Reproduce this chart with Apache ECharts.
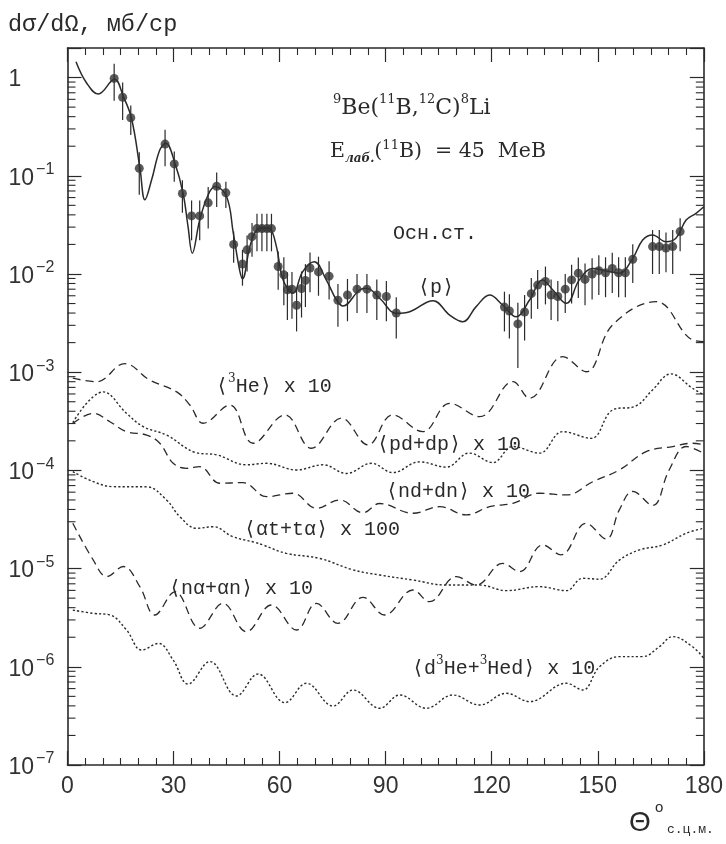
<!DOCTYPE html>
<html><head><meta charset="utf-8">
<script src="https://cdn.jsdelivr.net/npm/echarts@6/dist/echarts.min.js"></script>
<style>html,body{margin:0;padding:0;background:#fff}#c{width:726px;height:844px}</style>
</head><body><div id="c"></div>
<script>
// ---- data (theta in degrees c.m., dσ/dΩ in mb/sr) ----
const thetaP = [2.4,5.4,8.7,13.3,15.8,18.1,20.5,21.9,23.8,26.1,27.8,30.4,32.7,34.1,35.3,37.4,39.8,41.7,45,46.9,48.7,49.5,51.6,53.5,55.5,57.2,59.1,61,63.8,66.5,69.8,73.2,76.1,77.9,82.6,84.5,88.3,93,96.8,103.4,108.1,111.8,115.6,119.4,123.1,126.9,130.7,134.4,137.3,141.1,144.8,148.6,152,156.1,159.9,162.7,165.5,169.3,172.1,175,177.8,180];
const valP = [1.45,0.88,0.68,0.96,0.64,0.385,0.119,0.057,0.091,0.183,0.214,0.134,0.066,0.0303,0.0163,0.0355,0.064,0.0776,0.0614,0.026,0.0109,0.00895,0.019,0.028,0.0295,0.029,0.019,0.0087,0.00635,0.0105,0.0133,0.0087,0.00543,0.00472,0.00687,0.00715,0.00566,0.00398,0.00413,0.00535,0.00382,0.00327,0.00465,0.0061,0.00483,0.00367,0.00543,0.0087,0.00687,0.00502,0.0087,0.0114,0.0108,0.0102,0.0144,0.0222,0.025,0.0213,0.0231,0.0355,0.0415,0.0484];

const ptTheta = [13.2,15.6,17.9,20.3,27.6,30.2,32.5,35.1,37.4,39.8,42.2,44.8,47.0,49.5,50.8,52.2,53.6,55.0,56.4,57.7,59.6,61.2,62.2,63.5,64.8,66.2,67.3,68.6,71.0,74.0,76.5,79.2,81.9,84.7,87.5,90.2,93.0,123.6,125.0,127.4,129.3,131.2,133.0,135.2,136.8,138.7,140.8,142.6,144.5,146.4,148.4,150.3,152.2,154.1,155.9,157.8,159.9,165.5,167.4,169.3,171.2,173.3];
const ptVal = [0.98,0.63,0.39,0.119,0.21,0.132,0.066,0.039,0.039,0.053,0.078,0.067,0.020,0.0126,0.0176,0.024,0.029,0.029,0.029,0.029,0.0119,0.0098,0.0069,0.0070,0.0048,0.0071,0.0086,0.0115,0.0105,0.0095,0.0054,0.0061,0.0070,0.0070,0.0061,0.0059,0.0040,0.0046,0.0042,0.0031,0.0041,0.0063,0.0077,0.0084,0.0061,0.0059,0.0070,0.0087,0.0102,0.0088,0.0100,0.0108,0.0103,0.0114,0.0103,0.0103,0.0141,0.019,0.019,0.0184,0.019,0.027];
const ptErr = [0.40,0.26,0.13,0.055,0.085,0.045,0.024,0.017,0.017,0.024,0.030,0.020,0.007,0.005,0.007,0.009,0.012,0.012,0.012,0.012,0.005,0.005,0.0035,0.0035,0.0022,0.0035,0.004,0.005,0.0045,0.004,0.0025,0.0028,0.003,0.003,0.0027,0.0026,0.0018,0.002,0.002,0.002,0.002,0.0028,0.0033,0.0035,0.0027,0.0026,0.003,0.0037,0.0045,0.004,0.0045,0.0047,0.0045,0.005,0.0045,0.0045,0.006,0.009,0.009,0.008,0.009,0.010];

const thetaHe3 = [1.5,8.2,16.2,23.3,30.9,34.6,38.4,45.9,52.5,61.5,69,77.5,85,92,100.5,108.1,116.6,126,130.7,140.1,146.7,154.2,166.5,176.8,180];
const valHe3 = [8.7e-4,8.0e-4,1.22e-3,8.3e-4,6.3e-4,4.63e-4,3.02e-4,4.63e-4,1.89e-4,3.67e-4,1.68e-4,3.4e-4,1.82e-4,3.67e-4,2.48e-4,4.82e-4,3.52e-4,8.0e-4,5.42e-4,1.44e-3,1.01e-3,3.03e-3,5.22e-3,2.13e-3,2.05e-3];

const thetaPd = [1.5,10.1,16.7,21.4,28,36.5,42.2,50.6,56.3,64.8,72.3,78.9,86,92,99.6,107.1,113.7,120.3,126,133.5,140.1,148.1,154.2,160.8,165.5,170.7,176.8,180];
const valPd = [3.07e-4,6.3e-4,3.81e-4,2.79e-4,2.29e-4,1.51e-4,1.44e-4,1.14e-4,1.18e-4,1.01e-4,1.14e-4,9.3e-5,1.18e-4,9.5e-5,1.22e-4,1.08e-4,1.5e-4,1.2e-4,1.75e-4,1.5e-4,2.48e-4,2.12e-4,4.12e-4,4.53e-4,6.59e-4,9.6e-4,6.86e-4,5.86e-4];

const thetaNd = [1.5,7.3,12,16.7,22.4,26.1,29.9,33.7,37.4,43.1,49.7,56.3,63.8,70.4,77,83.6,88.3,97.7,105.3,112.8,119.4,126,133.5,141.1,148.6,156.1,163.7,171.2,176.8,180];
const valNd = [3.0e-4,3.81e-4,3.13e-4,2.48e-4,2.29e-4,1.89e-4,1.18e-4,1.05e-4,1.09e-4,7.4e-5,7.5e-5,5.4e-5,5.85e-5,4.11e-5,5.0e-5,3.7e-5,4.6e-5,3.66e-5,4.27e-5,3.52e-5,4.27e-5,4.62e-5,5.85e-5,5.62e-5,7.67e-5,1.01e-4,1.55e-4,1.75e-4,1.89e-4,1.82e-4];

const thetaAt = [1.5,7.3,12.9,22.4,28,31.8,36.5,41.2,46.8,53,55.3,61.9,71.3,80.8,88.3,97.7,107.1,116.6,124.1,133.5,141.1,145.7,150.5,156.1,161.8,168.4,175,180];
const valAt = [9.7e-5,7.67e-5,6.83e-5,6.8e-5,5.0e-5,3.37e-5,2.57e-5,2.67e-5,2.11e-5,1.85e-5,1.74e-5,1.43e-5,1.27e-5,9.7e-6,8.6e-6,7.65e-6,6.8e-6,6.8e-6,5.96e-6,6.55e-6,5.96e-6,7.96e-6,7.8e-6,1.22e-5,1.55e-5,1.74e-5,2.29e-5,2.57e-5];

const thetaNa = [1.5,7.3,11.1,15.8,20.5,24.7,30.4,37.4,44,50.6,57.7,64.8,70.4,76.5,83.6,89.7,97.7,102.4,110,115.6,123.1,127.9,134.4,139.6,146.7,152.4,156.1,159.9,165.5,170.2,175,180];
const valNa = [2.9e-5,1.22e-5,8.3e-6,1.05e-5,6.5e-6,3.37e-6,5.8e-6,2.47e-6,4.43e-6,2.28e-6,4.26e-6,2.37e-6,4.43e-6,2.77e-6,5.1e-6,3.37e-6,6.05e-6,4.6e-6,8.3e-6,6.8e-6,1.13e-5,9.3e-6,1.74e-5,1.38e-5,2.89e-5,2.0e-5,3.96e-5,6.1e-5,4.4e-5,1.01e-4,1.75e-4,1.49e-4];

const thetaDHe = [1.5,7.3,12,16.7,21,25.7,29.9,34.1,40.3,47.8,53.9,61.5,67.6,75.1,80.8,88.3,94,101.5,109,116.6,124.1,130.7,141.1,145.7,150.5,156.1,162.7,167.4,171.2,176.8,180];
const valDHe = [3.78e-6,3.5e-6,3.37e-6,2.37e-6,1.48e-6,1.73e-6,1.17e-6,6.68e-7,1.13e-6,5.05e-7,8.45e-7,4.31e-7,6.8e-7,3.99e-7,5.8e-7,3.78e-7,5.16e-7,3.78e-7,5.16e-7,4.08e-7,5.37e-7,4.42e-7,6.8e-7,5.8e-7,1.0e-6,1.27e-6,1.27e-6,1.6e-6,2.03e-6,1.6e-6,1.22e-6];

// axis ticks
const xTickStep = 30;
const yDecades = [-7,-6,-5,-4,-3,-2,-1,0];
const yMantissas = [2,3,4,5,6,7,8,9];

// ---- build ----
const INK = '#2a2a2a';
const zip = (a, b) => a.map((t, i) => [t, b[i]]);
const minorVals = [];
yDecades.forEach(d => yMantissas.forEach(m => { const v = m * Math.pow(10, d); if (v < 1.99) minorVals.push(v); }));

const axisLineStyle = {color: INK, width: 1.6};
function xAx(pos, showLabel) {
  return {type: 'value', min: 0, max: 180, interval: xTickStep, position: pos,
    axisLine: {show: true, onZero: false, lineStyle: axisLineStyle},
    axisTick: {show: true, inside: true, length: 14, lineStyle: {color: INK, width: 1.2}},
    minorTick: {show: true, splitNumber: 6, length: 7, lineStyle: {color: INK, width: 1.1}},
    splitLine: {show: false},
    axisLabel: {show: showLabel, margin: 10, fontFamily: 'Liberation Sans', fontSize: 23, color: '#333'}};
}
function yFmt(v) {
  const l = Math.log10(v), e = Math.round(l);
  if (Math.abs(l - e) > 1e-6) return '';
  if (e === 0) return '{n|1}';
  return '{n|10}{s|\u2212' + (-e) + '}';
}
function yAx(pos, showLabel) {
  return {type: 'log', logBase: 10, min: 1e-7, max: 2, interval: 1, position: pos,
    axisLine: {show: true, onZero: false, lineStyle: axisLineStyle},
    axisTick: {show: true, inside: true, length: 14, lineStyle: {color: INK, width: 1.2}},
    minorTick: {show: false}, splitLine: {show: false},
    axisLabel: {show: showLabel, align: 'left', margin: 59, formatter: yFmt,
      rich: {n: {fontFamily: 'Liberation Sans', fontSize: 23, color: '#333', lineHeight: 28, verticalAlign: 'bottom'},
             s: {fontFamily: 'Liberation Sans', fontSize: 16, color: '#333', lineHeight: 16, verticalAlign: 'top', padding: [0, 0, 0, 2]}}}};
}
function curve(th, v, dash, w) {
  return {type: 'line', data: zip(th, v), showSymbol: false, smooth: 0.4, silent: true,
    lineStyle: {color: INK, width: w, type: dash}, z: 3};
}
const DASH = [8, 5], DOT = [2.2, 2.2];
const MONO = "'Liberation Mono','DejaVu Sans Mono','DejaVu Sans',monospace";
const SERIF = "'DejaVu Serif','Liberation Serif',serif";
function txt(x, y, text, rich, font, size) {
  return {type: 'text', x: x, y: y, silent: true, z: 10,
    style: {text: text, rich: rich || {}, fill: INK, align: 'left', verticalAlign: 'middle',
            fontFamily: font || MONO, fontSize: size || 20}};
}
const monoRich = {
  m: {fontFamily: MONO, fontSize: 20, color: INK, lineHeight: 24, verticalAlign: 'bottom'},
  s: {fontFamily: SERIF, fontSize: 12, color: INK, lineHeight: 12, verticalAlign: 'top'}
};

const option = {
  animation: false, backgroundColor: '#fff',
  grid: {left: 67.5, right: 21, top: 48, bottom: 79},
  xAxis: [xAx('bottom', true), xAx('top', false)],
  yAxis: [yAx('left', true), yAx('right', false)],
  series: [
    {type: 'custom', silent: true, clip: false, z: 6, data: [[90, 1e-3]], encode: {x: 0, y: 1},
     renderItem: (p, api) => {
       const cs = p.coordSys;
       const kids = [];
       minorVals.forEach(v => {
         const y = api.coord([90, v])[1];
         kids.push({type: 'line', shape: {x1: cs.x, y1: y, x2: cs.x + 8, y2: y}, style: {stroke: INK, lineWidth: 1.1}});
         kids.push({type: 'line', shape: {x1: cs.x + cs.width - 8, y1: y, x2: cs.x + cs.width, y2: y}, style: {stroke: INK, lineWidth: 1.1}});
       });
       return {type: 'group', children: kids};
     }},
    curve(thetaP, valP, 'solid', 1.5),
    {type: 'custom', silent: true, z: 4,
     data: ptTheta.map((t, i) => [t, ptVal[i] - ptErr[i], ptVal[i] + ptErr[i]]),
     encode: {x: 0, y: [1, 2]},
     renderItem: (p, api) => {
       const a = api.coord([api.value(0), api.value(1)]), b = api.coord([api.value(0), api.value(2)]);
       return {type: 'line', shape: {x1: a[0], y1: a[1], x2: b[0], y2: b[1]}, style: {stroke: INK, lineWidth: 1.2}};
     }},
    {type: 'scatter', data: zip(ptTheta, ptVal), symbol: 'circle', symbolSize: 9, silent: true, z: 5,
     itemStyle: {color: '#333'}},
    curve(thetaHe3, valHe3, DASH, 1.3),
    curve(thetaPd, valPd, DOT, 1.4),
    curve(thetaNd, valNd, DASH, 1.3),
    curve(thetaAt, valAt, DOT, 1.4),
    curve(thetaNa, valNa, DASH, 1.3),
    curve(thetaDHe, valDHe, DOT, 1.4)
  ],
  graphic: [
    txt(8, 25, 'dσ/dΩ, мб/ср', null, MONO, 23.5),
    txt(333, 106, '{s|9}{m|Be(}{s|11}{m|B,}{s|12}{m|C)}{s|8}{m|Li}', {
      m: {fontFamily: SERIF, fontSize: 22, color: INK, lineHeight: 26, verticalAlign: 'bottom'},
      s: {fontFamily: SERIF, fontSize: 13, color: INK, lineHeight: 13, verticalAlign: 'top'}}),
    txt(330, 152, '{m|E}{b|лаб.}{m|(}{s|11}{m|B)  = 45  MeB}', {
      m: {fontFamily: SERIF, fontSize: 20.5, color: INK, lineHeight: 26, verticalAlign: 'middle'},
      b: {fontFamily: SERIF, fontSize: 12, fontStyle: 'italic', fontWeight: 'bold', color: INK, lineHeight: 24, verticalAlign: 'bottom'},
      s: {fontFamily: SERIF, fontSize: 13, color: INK, lineHeight: 26, verticalAlign: 'top'}}),
    txt(393, 232, '{m|Осн.ст.}', monoRich),
    txt(418, 286, '{m|⟨p⟩}', monoRich),
    txt(216, 385, '{m|⟨}{s|3}{m|He⟩ x 10}', monoRich),
    txt(377, 443, '{m|⟨pd+dp⟩ x 10}', monoRich),
    txt(386, 490, '{m|⟨nd+dn⟩ x 10}', monoRich),
    txt(244, 528, '{m|⟨αt+tα⟩ x 100}', monoRich),
    txt(169, 587, '{m|⟨nα+αn⟩ x 10}', monoRich),
    txt(412, 667, '{m|⟨d}{s|3}{m|He+}{s|3}{m|Hed⟩ x 10}', monoRich),
    txt(629, 823, 'Θ', null, 'Liberation Sans', 28),
    txt(655, 808, 'o', null, 'Liberation Sans', 15),
    txt(667, 830, 'с.ц.м.', null, MONO, 13)
  ]
};
const chart = echarts.init(document.getElementById('c'), null, {renderer: 'canvas'});
chart.setOption(option);
</script></body></html>
